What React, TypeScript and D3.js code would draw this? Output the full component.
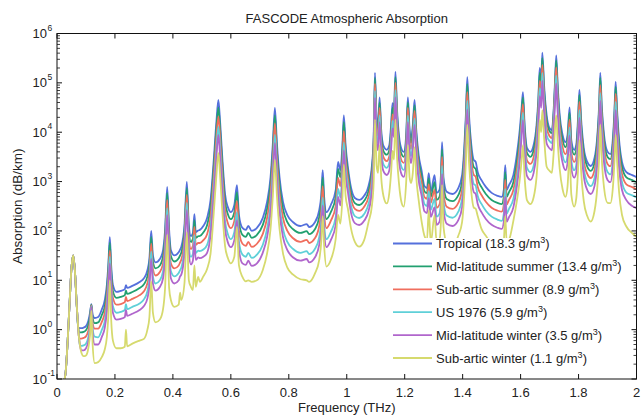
import React from "react";
import * as d3 from "d3";

// Frequency grid (THz)
const freq = [
  0.025, 0.03, 0.037, 0.044, 0.05, 0.056, 0.062, 0.068, 0.073,
  0.076, 0.079, 0.083, 0.092, 0.1, 0.108, 0.114, 0.1187, 0.123, 0.13,
  0.142, 0.155, 0.165, 0.172, 0.177, 0.1823, 0.187, 0.193, 0.205, 0.22,
  0.234, 0.238, 0.242, 0.26, 0.285, 0.3, 0.312, 0.319, 0.3252, 0.331,
  0.34, 0.355, 0.366, 0.373, 0.3803, 0.387, 0.393, 0.405, 0.42, 0.4248,
  0.429, 0.44, 0.4481, 0.455, 0.462, 0.469, 0.4742, 0.479, 0.4872, 0.493,
  0.505, 0.518, 0.53, 0.541, 0.55, 0.557, 0.563, 0.571, 0.58, 0.59,
  0.6, 0.612, 0.621, 0.628, 0.64, 0.652, 0.66, 0.672, 0.69, 0.71,
  0.725, 0.737, 0.745, 0.752, 0.759, 0.768, 0.78, 0.795, 0.815, 0.84,
  0.862, 0.87, 0.89, 0.905, 0.912, 0.917, 0.922, 0.93, 0.945, 0.962,
  0.97, 0.978, 0.985, 0.9899, 0.996, 1.004, 1.015, 1.028, 1.043, 1.06,
  1.075, 1.087, 1.093, 1.0973, 1.103, 1.108, 1.1133, 1.119, 1.127, 1.138,
  1.147, 1.153, 1.158, 1.163, 1.168, 1.174, 1.18, 1.19, 1.197, 1.205,
  1.211, 1.217, 1.222, 1.228, 1.234, 1.24, 1.248, 1.258, 1.268, 1.277,
  1.283, 1.29, 1.303, 1.31, 1.32, 1.325, 1.329, 1.334, 1.345, 1.365,
  1.385, 1.398, 1.406, 1.411, 1.416, 1.422, 1.43, 1.438, 1.445, 1.452,
  1.465, 1.48, 1.5, 1.52, 1.535, 1.542, 1.547, 1.552, 1.56, 1.575,
  1.587, 1.597, 1.603, 1.608, 1.614, 1.622, 1.634, 1.645, 1.655, 1.661,
  1.666, 1.671, 1.675, 1.681, 1.69, 1.7, 1.708, 1.714, 1.719, 1.723,
  1.728, 1.735, 1.745, 1.755, 1.762, 1.769, 1.775, 1.785, 1.792, 1.798,
  1.803, 1.809, 1.818, 1.83, 1.842, 1.855, 1.865, 1.871, 1.875, 1.88,
  1.888, 1.9, 1.91, 1.918, 1.924, 1.928, 1.933, 1.94, 1.95, 1.965,
  1.985, 2.0,
];

// Absorption (dB/km)
const tropical = [
  0.09, 0.14, 0.62, 4.0, 18, 32, 15, 3.2, 1.13,
  1.08, 1.07, 1.07, 1.1, 1.18, 1.5, 2.2, 3.3, 2.0, 1.72,
  1.8, 2.6, 4.0, 8, 20, 75, 20, 8, 5.8, 6.1,
  6.6, 8, 7, 7.7, 9.2, 11, 16, 28, 100, 32,
  23, 27, 41, 105, 780, 105, 41, 32, 37, 42,
  48, 132, 980, 132, 79, 91, 220, 95, 102, 105,
  126, 182, 425, 2750, 16000, 45000, 16000, 2750, 560, 300,
  240, 335, 850, 210, 115, 105, 126, 100, 115, 182,
  385, 1230, 6000, 31000, 6000, 1230, 385, 210, 150, 126,
  138, 120, 150, 265, 535, 1700, 490, 240, 335, 680,
  2500, 1700, 5500, 22000, 5500, 1970, 740, 465, 425, 515,
  810, 2160, 8800, 160000, 19500, 14000, 51000, 11000, 5200, 4400,
  5500, 14000, 39000, 26000, 166000, 26000, 8800, 4400, 4000, 8800,
  51000, 11000, 7600, 14000, 45000, 11000, 3500, 1700, 810, 740,
  1480, 620, 1350, 590, 680, 1350, 6300, 1170, 620, 560,
  740, 1350, 5500, 22000, 130000, 22000, 5500, 2750, 2500, 1550,
  1070, 780, 590, 515, 490, 680, 2160, 680, 850, 1350,
  3500, 11000, 28000, 65000, 14000, 4800, 4000, 5500, 14000, 45000,
  200000, 115000, 410000, 91000, 22000, 12000, 11000, 28000, 115000, 360000,
  91000, 22000, 8800, 6300, 8800, 32000, 6900, 4400, 5500, 18000,
  72000, 18000, 4800, 2500, 2070, 3000, 8800, 35000, 160000, 35000,
  8800, 4000, 3600, 6900, 28000, 105000, 28000, 6900, 2500, 1550,
  1350, 1230,
];

const midLatSummer = [
  0.09, 0.14, 0.62, 4.0, 18, 32, 15, 3.2, 1.13,
  0.9, 0.88, 0.88, 0.9, 0.97, 1.25, 1.9, 3.2, 1.7, 1.35,
  1.4, 2.0, 3.0, 6.2, 15.5, 58, 15.5, 6, 4.4, 4.6,
  5.0, 6.2, 5.3, 5.8, 7.0, 8.3, 12, 21, 76, 24,
  17.5, 20, 31, 79, 590, 79, 31, 24, 28, 32,
  36, 100, 740, 100, 60, 69, 165, 72, 78, 79,
  93, 131, 305, 1980, 11500, 32000, 11500, 1980, 400, 215,
  173, 240, 610, 150, 83, 76, 91, 72, 83, 131,
  277, 885, 4300, 22000, 4300, 885, 277, 150, 108, 91,
  99, 86, 108, 190, 385, 1220, 350, 173, 240, 490,
  1800, 1220, 3960, 16000, 4100, 1550, 585, 367, 335, 407,
  640, 1700, 6950, 126000, 15400, 11000, 40000, 8700, 4100, 3500,
  4350, 11000, 31000, 20500, 130000, 20500, 6950, 3500, 3160, 6950,
  40000, 8700, 6000, 11000, 35500, 8700, 2760, 1340, 640, 585,
  1170, 490, 970, 425, 490, 970, 4500, 840, 445, 400,
  530, 970, 3960, 16000, 94000, 16000, 3960, 1980, 1800, 1120,
  770, 560, 425, 370, 350, 490, 1560, 490, 610, 970,
  2520, 7900, 22000, 51000, 11000, 3800, 3160, 4350, 11000, 35500,
  160000, 90000, 320000, 72000, 17500, 10500, 9600, 24000, 95000, 285000,
  72000, 17500, 7000, 5000, 7000, 25000, 5450, 3500, 4350, 14000,
  57000, 14000, 3800, 2000, 1640, 2370, 7000, 28000, 126000, 28000,
  7000, 3160, 2850, 5450, 22000, 83000, 22000, 5450, 2000, 1220,
  1070, 970,
];

const subArticSummer = [
  0.09, 0.14, 0.62, 4.0, 18, 32, 15, 3.2, 1.13,
  0.68, 0.66, 0.66, 0.68, 0.73, 0.95, 1.5, 3.1, 1.35, 1.05,
  1.05, 1.45, 2.2, 4.5, 11.5, 40, 11, 4.4, 3.2, 3.3,
  3.6, 4.6, 3.8, 4.2, 5.0, 6.0, 8.7, 15, 55, 17,
  12.5, 14.7, 22, 57, 425, 57, 22, 17.5, 20, 23,
  26, 72, 535, 72, 43, 50, 120, 52, 57, 57,
  65, 86, 200, 1300, 7600, 21000, 7600, 1300, 265, 142,
  114, 160, 400, 100, 55, 50, 60, 47.5, 55, 86,
  183, 585, 2850, 15000, 2850, 585, 183, 100, 71, 60,
  66, 57, 71, 126, 255, 810, 233, 114, 160, 323,
  1190, 810, 2600, 10500, 2900, 1180, 445, 280, 255, 310,
  485, 1300, 5300, 96000, 11700, 8400, 31000, 6600, 3100, 2600,
  3300, 8400, 23000, 15600, 100000, 15600, 5300, 2600, 2400, 5300,
  31000, 6600, 4560, 8400, 27000, 6600, 2100, 1020, 485, 445,
  890, 370, 675, 295, 340, 675, 3150, 585, 310, 280,
  370, 675, 2750, 11000, 65000, 11000, 2750, 1375, 1250, 775,
  535, 390, 295, 258, 245, 340, 1080, 340, 425, 675,
  1750, 5500, 16000, 37000, 8000, 2700, 2280, 3100, 8000, 26000,
  110000, 65000, 230000, 52000, 12500, 8300, 7600, 19000, 75000, 205000,
  52000, 12500, 5000, 3600, 5000, 18000, 3900, 2500, 3100, 10000,
  41000, 10000, 2700, 1430, 1180, 1700, 5000, 20000, 90000, 20000,
  5000, 2280, 2050, 3900, 16000, 60000, 16000, 3900, 1430, 880,
  770, 700,
];

const us1976 = [
  0.09, 0.14, 0.62, 4.0, 18, 32, 15, 3.2, 1.13,
  0.68, 0.49, 0.47, 0.48, 0.52, 0.7, 1.2, 3.0, 1.05, 0.72,
  0.7, 1.0, 1.5, 3.1, 8, 30, 7.5, 3.0, 2.2, 2.3,
  2.5, 3.3, 2.6, 2.9, 3.4, 4.1, 6.0, 10.5, 38, 12,
  8.6, 10, 15.4, 39, 290, 39, 15.4, 12, 14, 16,
  18, 50, 370, 50, 30, 34, 82, 36, 40, 39,
  42, 52, 120, 780, 4500, 13000, 4500, 780, 160, 85,
  68, 95, 240, 60, 33, 30, 36, 28.4, 33, 52,
  110, 350, 1700, 8800, 1700, 350, 110, 60, 43, 36,
  39, 34, 43, 75, 152, 480, 139, 68, 95, 193,
  710, 480, 1560, 6200, 1900, 850, 320, 200, 183, 220,
  350, 930, 3800, 69000, 8400, 6000, 22000, 4700, 2200, 1900,
  2400, 6000, 17000, 11000, 71000, 11000, 3800, 1900, 1720, 3800,
  22000, 4700, 3270, 6000, 19000, 4700, 1500, 730, 350, 320,
  640, 267, 445, 195, 225, 445, 2080, 385, 205, 185,
  245, 445, 1800, 7300, 43000, 7300, 1800, 900, 825, 510,
  353, 257, 195, 170, 160, 225, 710, 225, 280, 445,
  1150, 3630, 11000, 25000, 5500, 1900, 1560, 2100, 5500, 17500,
  78000, 45000, 160000, 35000, 8600, 6600, 6000, 15000, 56000, 140000,
  35000, 8600, 3400, 2450, 3400, 12500, 2700, 1700, 2150, 7000,
  28000, 7000, 1870, 975, 810, 1170, 3400, 13500, 62000, 13500,
  3400, 1560, 1400, 2700, 11000, 41000, 11000, 2700, 975, 600,
  525, 480,
];

const midLatWinter = [
  0.09, 0.14, 0.62, 4.0, 18, 32, 15, 3.2, 1.13,
  0.68, 0.49, 0.38, 0.38, 0.42, 0.57, 1.0, 2.9, 0.85, 0.5,
  0.5, 0.72, 1.1, 2.3, 6, 22, 5.5, 2.2, 1.6, 1.65,
  1.8, 2.5, 1.9, 2.1, 2.5, 3.0, 4.3, 7.6, 27, 8.6,
  6.2, 7.3, 11, 28, 210, 28, 11, 8.6, 10, 12,
  13, 36, 265, 36, 21, 25, 60, 26, 29, 28,
  30, 36, 83, 540, 3100, 8800, 3100, 540, 110, 58,
  47, 65, 165, 41, 22, 20.5, 25, 19.5, 22, 36,
  75, 240, 1170, 6000, 1170, 240, 75, 41, 29, 25,
  27, 23, 29, 52, 104, 330, 96, 47, 65, 133,
  490, 330, 1070, 4300, 1300, 610, 230, 144, 132, 160,
  250, 670, 2700, 50000, 6000, 4300, 16000, 3400, 1600, 1360,
  1700, 4300, 12000, 8000, 51000, 8000, 2700, 1360, 1240, 2700,
  16000, 3400, 2360, 4300, 14000, 3400, 1085, 530, 250, 230,
  460, 192, 300, 133, 153, 300, 1420, 263, 140, 126,
  166, 300, 1240, 5000, 29000, 5000, 1240, 620, 560, 350,
  240, 175, 133, 116, 110, 153, 490, 153, 190, 300,
  790, 2500, 7600, 17500, 3800, 1300, 1080, 1500, 3800, 12000,
  54000, 31000, 110000, 25000, 5900, 4700, 4300, 11000, 40000, 97000,
  25000, 5900, 2400, 1700, 2400, 8600, 1860, 1200, 1500, 4900,
  19500, 4900, 1300, 675, 560, 810, 2400, 9500, 43000, 9500,
  2400, 1080, 970, 1860, 7600, 28000, 7600, 1860, 675, 420,
  320, 290,
];

const subArticWinter = [
  0.09, 0.14, 0.62, 4.0, 18, 32, 15, 3.2, 1.13,
  0.68, 0.49, 0.36, 0.29, 0.3, 0.42, 0.8, 2.4, 0.5, 0.21,
  0.22, 0.28, 0.4, 0.7, 1.8, 10, 1.6, 0.6, 0.42, 0.42,
  0.45, 1.0, 0.46, 0.52, 0.6, 0.65, 1.0, 1.8, 9.5, 2.2,
  1.4, 1.6, 2.6, 7, 83, 7, 4, 2.9, 3.2, 5.6,
  4.0, 8.8, 95, 10, 7.4, 6.3, 20, 7.4, 11.7, 9.3,
  12, 17, 35, 230, 1300, 3800, 1300, 230, 50, 28,
  22, 30, 120, 20, 11.7, 9.5, 10, 9.3, 10, 16,
  35, 110, 520, 2750, 520, 110, 35, 18, 13, 10.5,
  10, 9.3, 13.7, 26, 60, 200, 50, 19, 26, 70,
  210, 140, 470, 2200, 520, 280, 110, 60, 48, 65,
  150, 330, 1000, 18000, 2100, 1500, 5500, 1200, 500, 360,
  600, 1500, 4200, 2800, 18000, 2800, 950, 360, 310, 950,
  5500, 1200, 930, 1500, 5000, 1200, 430, 160, 80, 66,
  265, 57, 210, 60, 66, 150, 850, 120, 57, 48,
  80, 150, 600, 2400, 14000, 2400, 600, 300, 280, 200,
  110, 80, 55, 45, 41, 60, 200, 60, 66, 160,
  400, 1100, 2500, 5500, 1200, 420, 350, 480, 1230, 4000,
  18000, 10000, 28000, 8000, 2000, 1650, 1500, 3800, 12000, 22000,
  6500, 1800, 700, 490, 800, 3500, 550, 310, 450, 1600,
  6900, 1600, 400, 200, 155, 250, 800, 3000, 14000, 3000,
  750, 370, 365, 700, 2600, 8800, 2600, 600, 210, 123,
  90, 76,
];

const seriesLabels = [
  ["Tropical (18.3 g/m", "3", ")"],
  ["Mid-latitude summer (13.4 g/m", "3", ")"],
  ["Sub-artic summer (8.9 g/m", "3", ")"],
  ["US 1976 (5.9 g/m", "3", ")"],
  ["Mid-latitude winter (3.5 g/m", "3", ")"],
  ["Sub-artic winter (1.1 g/m", "3", ")"],
];
const seriesColors = ["#5570dc", "#22a070", "#f06e5e", "#5fd0d8", "#b066cc", "#d6da6e"];

const xTicks = [0, 0.2, 0.4, 0.6, 0.8, 1, 1.2, 1.4, 1.6, 1.8, 2];
const yExponents = [-1, 0, 1, 2, 3, 4, 5, 6];

const FONT = "'Liberation Sans', Arial, Helvetica, sans-serif";

export default function App() {
  const W = 641, H = 416;
  const L = 57, R = 636.5, T = 33.5, B = 379;
  const x = d3.scaleLinear().domain([0, 2]).range([L, R]);
  const y = d3.scaleLog().domain([0.1, 1e6]).range([B, T]);

  const allSeries = [tropical, midLatSummer, subArticSummer, us1976, midLatWinter, subArticWinter];
  const line = d3
    .line<[number, number]>()
    .x((d) => x(d[0]))
    .y((d) => y(Math.max(d[1], 0.05)))
    .curve(d3.curveMonotoneX);

  const paths = allSeries.map((s) => {
    const n = Math.min(s.length, freq.length);
    const pts: [number, number][] = [];
    for (let i = 0; i < n; i++) pts.push([freq[i], s[i]]);
    return line(pts) || "";
  });

  const minor: number[] = [];
  for (let e = -1; e < 6; e++) for (let m = 2; m <= 9; m++) minor.push(m * Math.pow(10, e));

  const legendX = 393, legendY0 = 243.5, legendStep = 22.9;

  return (
    <svg
      width={W}
      height={H}
      style={{ position: "absolute", left: 0, top: 0, display: "block", background: "#fff" }}
      fontFamily={FONT}
    >
      <rect x={0} y={0} width={W} height={H} fill="#fff" />
      <defs>
        <clipPath id="plotClip">
          <rect x={L} y={T} width={R - L} height={B - T} />
        </clipPath>
      </defs>
      <text x={(L + R) / 2} y={23} textAnchor="middle" fontSize={13} fill="#222">
        FASCODE Atmospheric Absorption
      </text>

      <g clipPath="url(#plotClip)">
        {paths.map((p, i) => (
          <path key={i} d={p} fill="none" stroke={seriesColors[i]} strokeWidth={1.8} strokeLinejoin="round" />
        ))}
      </g>

      {/* Legend */}
      <rect x={388} y={238} width={R - 389} height={B - 239} fill="#fff" />
      {seriesLabels.map((lab, i) => {
        const cy = legendY0 + i * legendStep;
        return (
          <g key={i}>
            <line x1={legendX} x2={legendX + 39} y1={cy} y2={cy} stroke={seriesColors[i]} strokeWidth={1.8} />
            <text x={legendX + 43} y={cy + 4.5} fontSize={13} fill="#222">
              {lab[0]}
              <tspan dy={-5} fontSize={9}>{lab[1]}</tspan>
              <tspan dy={5} fontSize={13}>{lab[2]}</tspan>
            </text>
          </g>
        );
      })}

      {/* Axes frame */}
      <rect x={L} y={T} width={R - L} height={B - T} fill="none" stroke="#111" strokeWidth={1} />

      {/* X ticks */}
      {xTicks.map((t) => (
        <g key={"x" + t}>
          <line x1={x(t)} x2={x(t)} y1={B} y2={B - 5} stroke="#111" />
          <line x1={x(t)} x2={x(t)} y1={T} y2={T + 5} stroke="#111" />
          <text x={x(t)} y={397} textAnchor="middle" fontSize={13} fill="#222">
            {String(t)}
          </text>
        </g>
      ))}

      {/* Y ticks */}
      {yExponents.map((e) => {
        const v = Math.pow(10, e);
        const ty = y(v);
        return (
          <g key={"y" + e}>
            <line x1={L} x2={L + 5} y1={ty} y2={ty} stroke="#111" />
            <line x1={R} x2={R - 5} y1={ty} y2={ty} stroke="#111" />
            <text x={47} y={ty + 4.5} textAnchor="end" fontSize={13} fill="#222">
              10
            </text>
            <text x={47.5} y={ty - 3} textAnchor="start" fontSize={8.5} fill="#222">
              {String(e)}
            </text>
          </g>
        );
      })}
      {minor.map((v, i) => {
        const ty = y(v);
        return (
          <g key={"m" + i}>
            <line x1={L} x2={L + 3} y1={ty} y2={ty} stroke="#111" strokeWidth={0.8} />
            <line x1={R} x2={R - 3} y1={ty} y2={ty} stroke="#111" strokeWidth={0.8} />
          </g>
        );
      })}

      <text
        transform={`translate(22, ${(T + B) / 2}) rotate(-90)`}
        textAnchor="middle"
        fontSize={13.5}
        fill="#222"
      >
        Absorption (dB/km)
      </text>
      <text x={(L + R) / 2} y={412} textAnchor="middle" fontSize={13} fill="#222">
        Frequency (THz)
      </text>
    </svg>
  );
}
